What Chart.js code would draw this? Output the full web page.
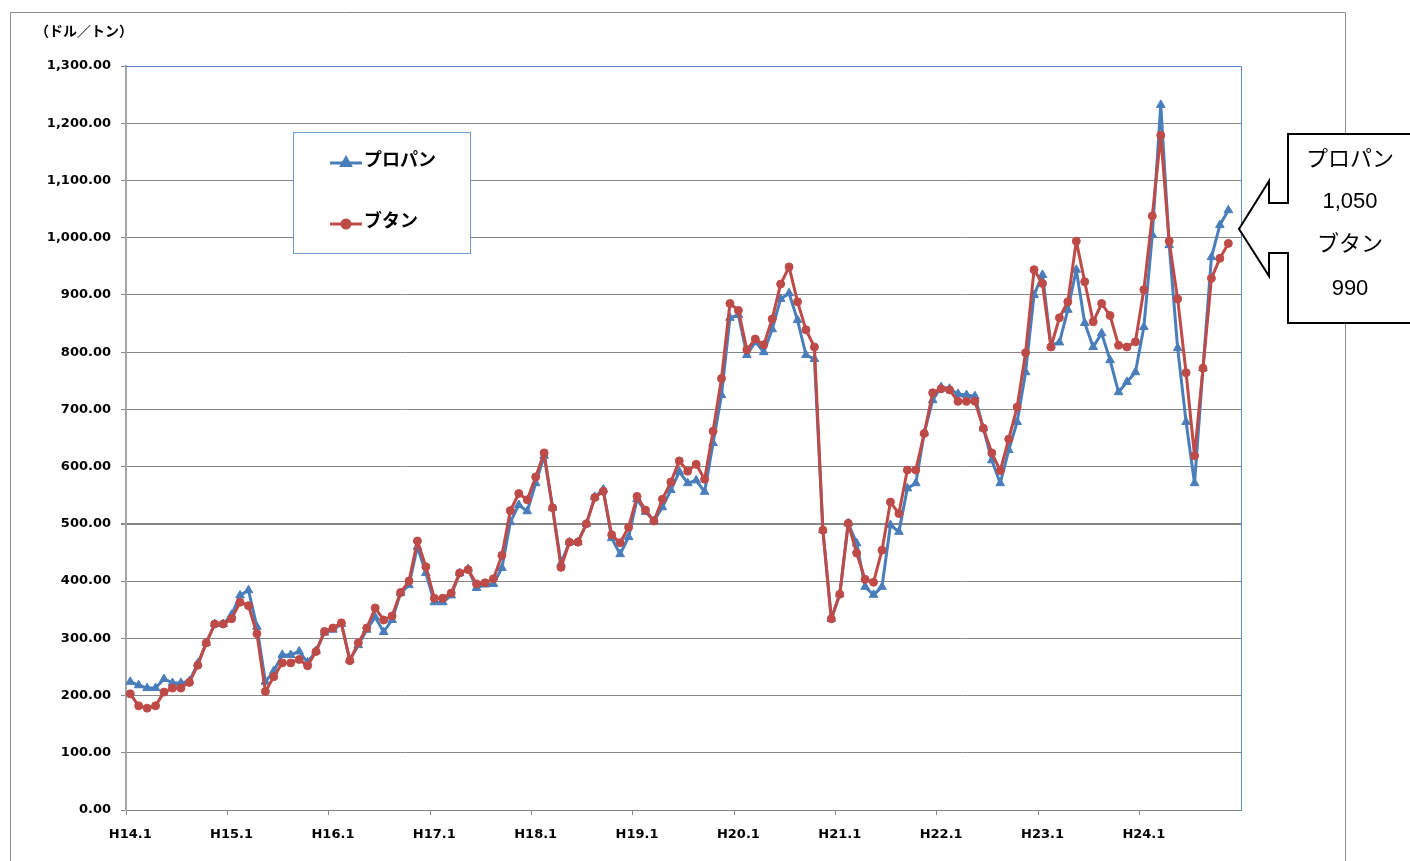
<!DOCTYPE html>
<html>
<head>
<meta charset="utf-8">
<script src="https://cdn.jsdelivr.net/npm/chart.js@4/dist/chart.umd.min.js"></script>
<style>
  html, body { margin: 0; padding: 0; background: #fff; }
  canvas { display: block; }
</style>
</head>
<body>
<canvas id="chart1" width="1410" height="861"></canvas>
<script>
// 年度（平成）と月
const years = ['H14', 'H15', 'H16', 'H17', 'H18', 'H19', 'H20', 'H21', 'H22', 'H23', 'H24'];
const months = [1, 2, 3, 4, 5, 6, 7, 8, 9, 10, 11, 12];

// プロパン (ドル/トン)
const propane = [
    224, 218, 213, 213, 229, 222, 222, 225, 256, 292, 325, 325,
    341, 375, 384, 320, 224, 243, 271, 271, 277, 258, 278, 310,
    315, 325, 262, 288, 315, 337, 311, 332, 379, 393, 460, 414,
    363, 363, 375, 414, 421, 388, 394, 395, 423, 503, 533, 522,
    571, 619, 528, 431, 468, 468, 500, 547, 560, 475, 447, 477,
    543, 521, 505, 529, 559, 591, 571, 576, 556, 641, 725, 860,
    865, 795, 818, 800, 840, 893, 903, 856, 795, 788, 489, 334,
    377, 501, 466, 390, 376, 390, 498, 486, 562, 571, 659, 716,
    739, 736, 727, 725, 723, 667, 611, 571, 629, 678, 765, 900,
    935, 812, 817, 874, 944, 851, 809, 833, 786, 730, 748, 765,
    844, 1005, 1232, 987, 807, 678, 571, 772, 966, 1022, 1048
];

// ブタン (ドル/トン)
const butane = [
    203, 182, 178, 182, 206, 213, 213, 223, 253, 292, 325, 325,
    334, 363, 357, 308, 207, 233, 257, 257, 263, 252, 277, 312,
    318, 327, 261, 292, 318, 353, 332, 339, 380, 400, 470, 425,
    370, 370, 379, 414, 420, 395, 397, 404, 445, 523, 553, 542,
    582, 624, 528, 424, 468, 468, 500, 546, 557, 481, 467, 494,
    548, 524, 505, 543, 573, 610, 592, 604, 578, 662, 754, 885,
    873, 804, 823, 813, 858, 919, 949, 888, 839, 809, 489, 334,
    377, 501, 449, 403, 398, 454, 538, 518, 594, 594, 658, 729,
    736, 734, 714, 714, 714, 667, 624, 593, 648, 704, 799, 944,
    920, 809, 860, 888, 994, 923, 853, 885, 864, 812, 809, 818,
    909, 1038, 1179, 994, 893, 764, 619, 772, 929, 964, 990
];

const seriesNames = ['プロパン', 'ブタン'];
const calloutTexts = ['プロパン', '1,050', 'ブタン', '990'];
const unitLabel = '（ドル／トン）';

const labels = [];
years.forEach(y => months.forEach(m => labels.push(y + '.' + m)));

const BLUE = '#4a7ebb';
const RED = '#be4b48';
const GRID = '#868686';

const decor = {
    id: 'decor',
    beforeDraw(chart) {
        const c = chart.ctx;
        c.save();
        c.strokeStyle = '#8c8c8c';
        c.lineWidth = 1;
        c.beginPath();
        c.moveTo(10.5, 861);
        c.lineTo(10.5, 12.5);
        c.lineTo(1345.5, 12.5);
        c.lineTo(1345.5, 861);
        c.stroke();
        c.restore();
    },
    beforeDatasetsDraw(chart) {
        const c = chart.ctx;
        const a = chart.chartArea;
        c.save();
        c.strokeStyle = '#5b8bc9';
        c.lineWidth = 1;
        c.beginPath();
        c.moveTo(a.left, Math.round(a.top) + 0.5);
        c.lineTo(Math.round(a.right) + 0.5, Math.round(a.top) + 0.5);
        c.lineTo(Math.round(a.right) + 0.5, a.bottom);
        c.stroke();
        c.restore();
    },
    afterDraw(chart) {
        const c = chart.ctx;
        c.save();

        // 単位
        c.fillStyle = '#000';
        c.font = 'bold 14px "Noto Sans CJK JP"';
        c.textBaseline = 'middle';
        c.textAlign = 'left';
        c.fillText(unitLabel, 35, 31);

        // 凡例
        c.fillStyle = '#fff';
        c.fillRect(293, 132, 178, 122);
        c.strokeStyle = '#6f9bd1';
        c.lineWidth = 1;
        c.strokeRect(293.5, 132.5, 177, 121);
        const items = [
            { y: 163, color: BLUE, style: 'triangle', r: 5 },
            { y: 224, color: RED, style: 'circle', r: 4 }
        ];
        items.forEach((it, i) => {
            c.strokeStyle = it.color;
            c.lineWidth = 3;
            c.beginPath();
            c.moveTo(330, it.y);
            c.lineTo(362, it.y);
            c.stroke();
            Chart.helpers.drawPoint(c, { pointStyle: it.style, radius: it.r, borderWidth: 1 }, 346, it.y);
            c.fillStyle = it.color;
            c.fill();
            c.fillStyle = '#000';
            c.font = 'bold 18px "Noto Sans CJK JP"';
            c.textAlign = 'left';
            c.fillText(seriesNames[i], 364, it.y - 4);
        });

        // 吹き出し
        c.beginPath();
        c.moveTo(1288, 134);
        c.lineTo(1420, 134);
        c.lineTo(1420, 323);
        c.lineTo(1288, 323);
        c.lineTo(1288, 253);
        c.lineTo(1269, 253);
        c.lineTo(1269, 276);
        c.lineTo(1239, 229);
        c.lineTo(1269, 181);
        c.lineTo(1269, 203);
        c.lineTo(1288, 203);
        c.closePath();
        c.fillStyle = '#fff';
        c.fill();
        c.strokeStyle = '#000';
        c.lineWidth = 2;
        c.stroke();
        c.fillStyle = '#000';
        c.font = '22px "Liberation Sans", "Noto Sans CJK JP"';
        c.textAlign = 'center';
        const ys = [160, 202, 245, 289];
        calloutTexts.forEach((t, i) => c.fillText(t, 1350, ys[i]));

        c.restore();
    }
};

const ctx1 = document.getElementById('chart1').getContext('2d');
const chart1 = new Chart(ctx1, {
    type: 'line',
    data: {
        labels: labels,
        datasets: [{
            label: seriesNames[0],
            data: propane,
            borderColor: BLUE,
            backgroundColor: BLUE,
            borderWidth: 3,
            borderJoinStyle: 'round',
            pointStyle: 'triangle',
            pointRadius: 5,
            pointBorderWidth: 1,
            tension: 0,
            order: 2
        }, {
            label: seriesNames[1],
            data: butane,
            borderColor: RED,
            backgroundColor: RED,
            borderWidth: 3,
            borderJoinStyle: 'round',
            pointStyle: 'circle',
            pointRadius: 4,
            pointBorderWidth: 1,
            tension: 0,
            order: 1
        }]
    },
    options: {
        responsive: false,
        animation: false,
        layout: { padding: { left: 0, top: 66, right: 169, bottom: 0 } },
        plugins: {
            legend: { display: false },
            tooltip: { enabled: false }
        },
        scales: {
            x: {
                offset: true,
                afterFit: s => { s.height = 51; },
                grid: {
                    offset: true,
                    drawOnChartArea: false,
                    drawTicks: true,
                    tickLength: 5,
                    color: c => (c.index % 12 === 0 ? GRID : 'rgba(0,0,0,0)')
                },
                border: { color: GRID, width: 1 },
                ticks: {
                    autoSkip: false,
                    maxRotation: 0,
                    padding: 12,
                    color: '#000',
                    font: { family: 'DejaVu Sans', size: 13, weight: 'bold' },
                    callback: (v, i) => (i % 12 === 0 ? labels[i] : '')
                }
            },
            y: {
                min: 0,
                max: 1300,
                afterFit: s => { s.width = 126; },
                grid: {
                    color: GRID,
                    lineWidth: c => (c.tick && c.tick.value === 500 ? 2 : 1),
                    drawTicks: true,
                    tickLength: 5
                },
                border: { color: '#a6a6a6', width: 2 },
                ticks: {
                    stepSize: 100,
                    padding: 10,
                    color: '#000',
                    font: { family: 'DejaVu Sans', size: 13, weight: 'bold' },
                    callback: v => v.toLocaleString('en-US', { minimumFractionDigits: 2, maximumFractionDigits: 2 })
                }
            }
        }
    },
    plugins: [decor]
});
</script>
</body>
</html>
